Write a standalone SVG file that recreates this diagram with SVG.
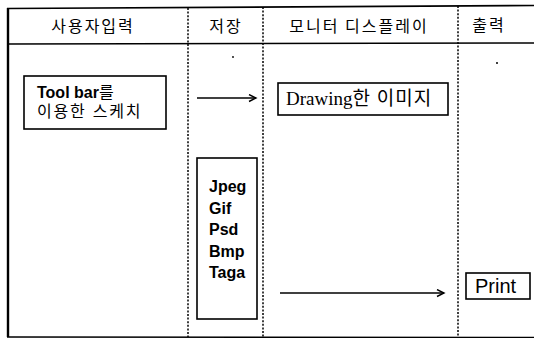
<svg xmlns="http://www.w3.org/2000/svg" width="534" height="338" viewBox="0 0 534 338">
<style>
.frame{stroke:#000;fill:none}
.div{stroke:#000;stroke-width:1.5;stroke-dasharray:2 1.6;fill:none}
.box{fill:#fff;stroke:#000;stroke-width:1.6}
.hd{font-family:"Noto Sans CJK KR","Noto Sans",sans-serif;font-size:16px;letter-spacing:2px;fill:#000;text-anchor:middle}
.kr{font-family:"Liberation Sans","Noto Sans CJK KR",sans-serif;fill:#000}
.b{font-weight:bold}
.conn{stroke:#000;stroke-width:1.3;fill:none}
</style>
<defs>
<marker id="ah" markerWidth="10" markerHeight="10" refX="8" refY="4" orient="auto" markerUnits="userSpaceOnUse">
<path d="M1,0.5 L8,4 L1,7.5" fill="none" stroke="#000" stroke-width="1.4"/>
</marker>
</defs>
<g id="table">
<line class="frame" x1="7" y1="8.5" x2="534" y2="5.5" stroke-width="1.6"/>
<line class="frame" x1="7" y1="44" x2="534" y2="43" stroke-width="1.4"/>
<line class="frame" x1="7" y1="337" x2="534" y2="337.5" stroke-width="1.4"/>
<line class="frame" x1="8" y1="8" x2="8" y2="337" stroke-width="2.4"/>
<line class="div" x1="188" y1="8" x2="188" y2="337"/>
<line class="div" x1="263" y1="7" x2="263" y2="337"/>
<line class="div" x1="458" y1="6" x2="458" y2="337"/>
<circle cx="233" cy="57" r="0.9" fill="#000"/>
<circle cx="497" cy="63" r="1" fill="#000"/>
</g>
<g id="headers">
<text class="hd" x="93" y="32">사용자입력</text>
<text class="hd" x="226" y="32">저장</text>
<text class="hd" x="359" y="32">모니터 디스플레이</text>
<text class="hd" x="489" y="31">출력</text>
</g>
<g id="connectors">
<line class="conn" x1="197" y1="98" x2="256" y2="98" marker-end="url(#ah)"/>
<line class="conn" x1="280" y1="293" x2="444" y2="293" marker-end="url(#ah)"/>
</g>
<g id="toolbar">
<rect class="box" x="24" y="76" width="142" height="53"/>
<text class="kr" x="37" y="98" font-size="16"><tspan class="b">Tool bar</tspan>를</text>
<text class="kr" x="37" y="117" font-size="16" letter-spacing="1.8">이용한 스케치</text>
</g>
<g id="drawing">
<rect class="box" x="278" y="83" width="170" height="32"/>
<text x="286" y="105" font-family="'Liberation Serif','Noto Sans CJK KR',serif" font-size="19" fill="#000">Drawing<tspan letter-spacing="1">한 이미지</tspan></text>
</g>
<g id="storage">
<rect class="box" x="197" y="158" width="60" height="161"/>
<text class="kr b" font-size="16" x="209" y="192">Jpeg</text>
<text class="kr b" font-size="16" x="209" y="213.5">Gif</text>
<text class="kr b" font-size="16" x="209" y="235">Psd</text>
<text class="kr b" font-size="16" x="209" y="256.5">Bmp</text>
<text class="kr b" font-size="16" x="209" y="278">Taga</text>
</g>
<g id="print">
<rect class="box" x="466" y="273" width="64" height="26"/>
<text class="kr" x="475" y="293" font-size="20">Print</text>
</g>
</svg>
